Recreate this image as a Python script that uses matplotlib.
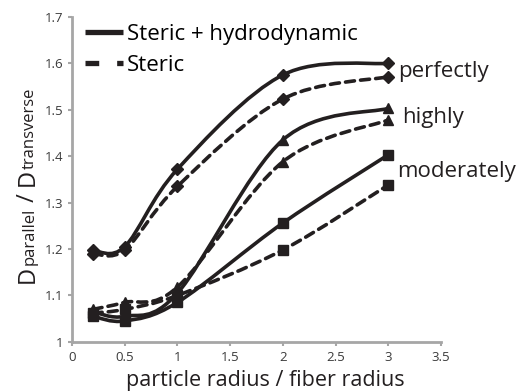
import numpy as np
import matplotlib.pyplot as plt
from matplotlib.path import Path
from matplotlib.patches import PathPatch
from matplotlib.lines import Line2D

plt.rcParams['font.family'] = ['Open Sans', 'DejaVu Sans']

# data
radius = [0.2, 0.5, 1, 2, 3]
perf_full = [1.197, 1.205, 1.372, 1.575, 1.600]
perf_steric = [1.190, 1.198, 1.335, 1.523, 1.571]
high_full = [1.065, 1.055, 1.105, 1.435, 1.503]
high_steric = [1.070, 1.085, 1.118, 1.388, 1.478]
mod_full = [1.055, 1.045, 1.085, 1.256, 1.403]
mod_steric = [1.062, 1.070, 1.100, 1.198, 1.338]

series = [
    (perf_full, 'D', '-'), (perf_steric, 'D', '--'),
    (high_full, '^', '-'), (high_steric, '^', '--'),
    (mod_full, 's', '-'), (mod_steric, 's', '--'),
]
group_names = ['perfectly', 'highly', 'moderately']
group_x = [3.09, 3.13, 3.08]
group_y = [1.582, 1.483, 1.366]

ink = '#231f20'


def smooth_path(x, y):
    # excel-style smoothed line: cubic bezier through the points
    pts = np.column_stack([x, y]).astype(float)
    n = len(pts)
    verts = [pts[0]]
    codes = [Path.MOVETO]
    for i in range(n - 1):
        p0 = pts[max(i - 1, 0)]
        p1 = pts[i]
        p2 = pts[i + 1]
        p3 = pts[min(i + 2, n - 1)]
        verts += [p1 + (p2 - p0) / 6, p2 - (p3 - p1) / 6, p2]
        codes += [Path.CURVE4] * 3
    return Path(verts, codes)


fig = plt.figure(figsize=(5.22, 3.92), dpi=100)
ax = fig.add_axes([0.138, 0.128, 0.707, 0.829])

dash = (0, (2.5, 1.7))
msize = {'D': 6.5, '^': 7.5, 's': 7.5}
for vals, mk, ls in series:
    patch = PathPatch(smooth_path(radius, vals), fill=False, lw=2.6, color=ink,
                      linestyle='-' if ls == '-' else dash, capstyle='round')
    ax.add_patch(patch)
    ax.plot(radius, vals, ls='none', marker=mk, ms=msize[mk], color=ink)

for name, x, y in zip(group_names, group_x, group_y):
    ax.text(x, y, name, fontsize=16, va='center', ha='left', color=ink)

ax.set_xlim(0, 3.5)
ax.set_ylim(1, 1.7)
ax.set_xticks([0, 0.5, 1, 1.5, 2, 2.5, 3, 3.5])
ax.set_xticklabels(['0', '0.5', '1', '1.5', '2', '2.5', '3', '3.5'])
ax.set_yticks([1, 1.1, 1.2, 1.3, 1.4, 1.5, 1.6, 1.7])
ax.set_yticklabels(['1', '1.1', '1.2', '1.3', '1.4', '1.5', '1.6', '1.7'])

for s in ['top', 'right']:
    ax.spines[s].set_visible(False)
for s in ['left', 'bottom']:
    ax.spines[s].set_color('#a6a6a6')
    ax.spines[s].set_linewidth(2)
ax.tick_params(colors='#a6a6a6', labelcolor='#3a3a3a', labelsize=9.5, length=3, width=1.5)

# x label
fig.text(265 / 522, 1 - 386 / 392, 'particle radius / fiber radius', fontsize=15.5,
         ha='center', va='baseline', color=ink)

# y label: big D with small letters on the same baseline
renderer = fig.canvas.get_renderer()
pieces = [('D', 17), ('parallel', 12), (' / ', 17), ('D', 17), ('transverse', 12)]
ypos = 1 - 283 / 392
for txt, size in pieces:
    t = fig.text(34 / 522, ypos, txt, fontsize=size, rotation=90, rotation_mode='anchor',
                 ha='left', va='baseline', color=ink)
    ypos += (t.get_window_extent(renderer).height + 0.5) / fig.bbox.height

handles = [Line2D([], [], color=ink, lw=3.8, solid_capstyle='butt'),
           Line2D([], [], color=ink, lw=3.8, ls=(0, (2.6, 3.4)), dash_capstyle='butt')]
ax.legend(handles, ['Steric + hydrodynamic', 'Steric'], loc='upper left',
          bbox_to_anchor=(85 / 522, 1 - 24 / 392), bbox_transform=fig.transFigure,
          frameon=False, fontsize=16, handlelength=1.7, handletextpad=0.2,
          labelspacing=0.45, borderpad=0, borderaxespad=0)

fig.savefig('out.png', dpi=100)
